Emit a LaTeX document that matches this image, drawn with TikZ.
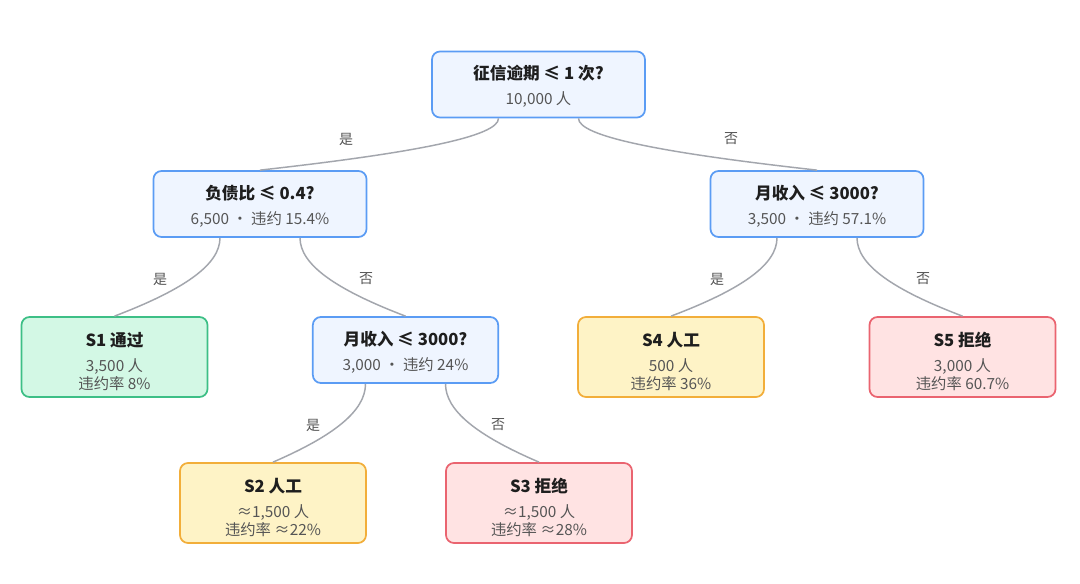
\documentclass[tikz,border=0pt]{standalone}
\usepackage{fontspec}
\setmainfont{Noto Sans CJK SC}

\definecolor{azul}{HTML}{5B9CF4}
\definecolor{azulclaro}{HTML}{EFF5FF}
\definecolor{verde}{HTML}{3DBF86}
\definecolor{verdeclaro}{HTML}{D3F8E5}
\definecolor{amarelo}{HTML}{F2AE3A}
\definecolor{amareloclaro}{HTML}{FEF3C6}
\definecolor{vermelho}{HTML}{EA6470}
\definecolor{vermelhoclaro}{HTML}{FFE3E3}
\definecolor{traco}{HTML}{A3A6AD}
\definecolor{texto}{HTML}{1E1E1E}
\definecolor{cinza}{HTML}{555555}

%titulo em negrito, com altura extra em cima
\newcommand{\titulo}[2][14pt]{{\rule{0pt}{#1}\fontsize{12.5}{15}\selectfont\bfseries\color{texto}#2}}

\tikzset{
	caixa/.style={draw, line width=1.3pt, rounded corners=6pt, inner sep=0pt, align=center,
		text=cinza, font=\fontsize{11.5}{13.5}\selectfont},
	decisao/.style={caixa, draw=azul, fill=azulclaro, minimum width=159.75pt, minimum height=49.5pt},
	folha/.style={caixa, minimum width=139.5pt, minimum height=60pt},
	passa/.style={folha, draw=verde, fill=verdeclaro},
	revisa/.style={folha, draw=amarelo, fill=amareloclaro},
	nega/.style={folha, draw=vermelho, fill=vermelhoclaro},
	aresta/.style={draw=traco, line width=1.1pt},
	rotulo/.style={text=cinza, font=\fontsize{10.5}{12}\selectfont}
}

\begin{document}
\begin{tikzpicture}[x=0.75pt, y=-0.75pt]
	\fill[white] (0,0) rectangle (1080,584);
	\useasboundingbox (0,0) rectangle (1080,584);
	
	%caixas de decisao
	\node[decisao] (raiz) at (538.5,84.5) {\titulo{征信逾期 ≤ 1 次?}\\[5.25pt]10,000 人};
	\node[decisao] (divida) at (260,204) {\titulo{负债比 ≤ 0.4?}\\[5.25pt]6,500 · 违约 15.4\%};
	\node[decisao] (renda) at (817,204) {\titulo{月收入 ≤ 3000?}\\[5.25pt]3,500 · 违约 57.1\%};
	\node[decisao, minimum width=139pt] (renda2) at (405.5,350) {\titulo{月收入 ≤ 3000?}\\[5.25pt]3,000 · 违约 24\%};
	
	%caixas finais
	\node[passa] (s1) at (114.5,357) {\titulo[17pt]{S1 通过}\\[5.25pt]3,500 人\\违约率 8\%};
	\node[revisa] (s4) at (671,357) {\titulo[17pt]{S4 人工}\\[5.25pt]500 人\\违约率 36\%};
	\node[nega] (s5) at (962.5,357) {\titulo[17pt]{S5 拒绝}\\[5.25pt]3,000 人\\违约率 60.7\%};
	\node[revisa] (s2) at (273,503) {\titulo[17pt]{S2 人工}\\[5.25pt]≈1,500 人\\违约率 ≈22\%};
	\node[nega] (s3) at (539,503) {\titulo[17pt]{S3 拒绝}\\[5.25pt]≈1,500 人\\违约率 ≈28\%};
	
	%ligando as caixas
	\draw[aresta] ([xshift=-30pt]raiz.south) .. controls +(0,17.7) and +(158.7,-17.7) .. (divida.north);
	\draw[aresta] ([xshift=30pt]raiz.south) .. controls +(0,17.7) and +(-159,-17.7) .. (renda.north);
	\draw[aresta] ([xshift=-30pt]divida.south) .. controls +(0,26.7) and +(70,-26.7) .. (s1.north);
	\draw[aresta] ([xshift=30pt]divida.south) .. controls +(0,26.7) and +(-70,-26.7) .. (renda2.north);
	\draw[aresta] ([xshift=-30pt]renda.south) .. controls +(0,26.7) and +(70.7,-26.7) .. (s4.north);
	\draw[aresta] ([xshift=30pt]renda.south) .. controls +(0,26.7) and +(-70.3,-26.7) .. (s5.north);
	\draw[aresta] ([xshift=-30pt]renda2.south) .. controls +(0,26.7) and +(61.7,-26.7) .. (s2.north);
	\draw[aresta] ([xshift=30pt]renda2.south) .. controls +(0,26.7) and +(-62.3,-26.7) .. (s3.north);
	
	%marcando labels
	\node[rotulo] (sim1) at (346,139) {是};
	\node[rotulo] (nao1) at (731,139) {否};
	\node[rotulo] (sim2) at (160,279) {是};
	\node[rotulo] (nao2) at (366,279) {否};
	\node[rotulo] (sim3) at (717,279) {是};
	\node[rotulo] (nao3) at (923,279) {否};
	\node[rotulo] (sim4) at (313,425) {是};
	\node[rotulo] (nao4) at (498,425) {否};
\end{tikzpicture}
\end{document}
